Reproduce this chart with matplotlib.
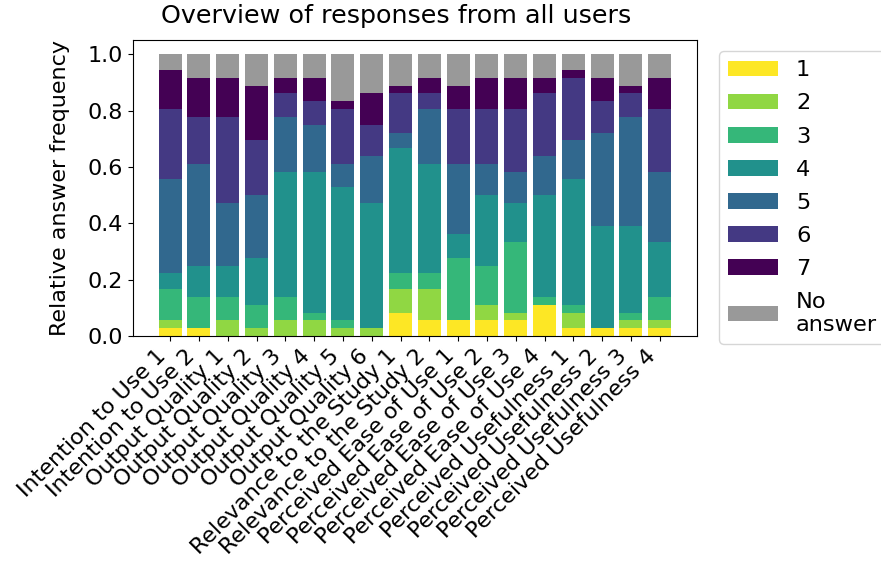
import matplotlib
matplotlib.use('Agg')
import matplotlib.pyplot as plt
import numpy as np

plt.rcParams.update({'font.size': 16})

questions = ['Intention to Use 1', 'Intention to Use 2',
             'Output Quality 1', 'Output Quality 2', 'Output Quality 3',
             'Output Quality 4', 'Output Quality 5', 'Output Quality 6',
             'Relevance to the Study 1', 'Relevance to the Study 2',
             'Perceived Ease of Use 1', 'Perceived Ease of Use 2',
             'Perceived Ease of Use 3', 'Perceived Ease of Use 4',
             'Perceived Usefulness 1', 'Perceived Usefulness 2',
             'Perceived Usefulness 3', 'Perceived Usefulness 4']

levels = ['1', '2', '3', '4', '5', '6', '7', 'No\nanswer']

# answer counts per level (36 users), one list per question
counts_1 = [1, 1, 0, 0, 0, 0, 0, 0, 3, 2, 2, 2, 2, 4, 1, 1, 1, 1]
counts_2 = [1, 0, 2, 1, 2, 2, 1, 1, 3, 4, 0, 2, 1, 0, 2, 0, 1, 1]
counts_3 = [4, 4, 3, 3, 3, 1, 1, 0, 2, 2, 8, 5, 9, 1, 1, 0, 1, 3]
counts_4 = [2, 4, 4, 6, 16, 18, 17, 16, 16, 14, 3, 9, 5, 13, 16, 13, 11, 7]
counts_5 = [12, 13, 8, 8, 7, 6, 3, 6, 2, 7, 9, 4, 4, 5, 5, 12, 14, 9]
counts_6 = [9, 6, 11, 7, 3, 3, 7, 4, 5, 2, 7, 7, 8, 8, 8, 4, 3, 8]
counts_7 = [5, 5, 5, 7, 2, 3, 1, 4, 1, 2, 3, 4, 4, 2, 1, 3, 1, 4]
counts_na = [2, 3, 3, 4, 3, 3, 6, 5, 4, 3, 4, 3, 3, 3, 2, 3, 4, 3]

all_counts = np.array([counts_1, counts_2, counts_3, counts_4,
                       counts_5, counts_6, counts_7, counts_na], dtype=float)
freq = all_counts / all_counts.sum(axis=0)

colors = list(plt.cm.viridis(np.linspace(0, 1, 7))[::-1]) + ['#999999']

fig = plt.figure(figsize=(8.81, 5.74), dpi=100)
ax = fig.add_axes([0.151, 0.4146, 0.64, 0.5154])

x = np.arange(len(questions))
bottom = np.zeros(len(questions))
for i in range(len(levels)):
    ax.bar(x, freq[i], bottom=bottom, color=colors[i], label=levels[i])
    bottom += freq[i]

ax.set_xticks(x)
ax.set_xticklabels(questions, rotation=45, ha='right')
ax.set_ylabel('Relative answer frequency', labelpad=13)
# title sits left of the axes centre in the reference
fig.text(396 / 881, 0.96, 'Overview of responses from all users',
         fontsize=18.3, ha='center', va='baseline')
ax.legend(loc='upper left', bbox_to_anchor=(1.02, 1), fontsize=16.2,
          handlelength=2.2, labelspacing=0.58)

fig.savefig('out.png', dpi=100)
